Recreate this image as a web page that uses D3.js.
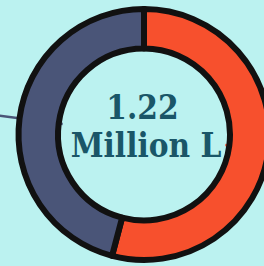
<!DOCTYPE html>
<html>
  <body style="margin:0;background:#bbf2f0;">
    <script src="https://d3js.org/d3.v7.min.js"></script>
    <script type="text/javascript">
      const width = 264;
      const height = 266;
      const categories = ['Part A', 'Part B'];
      const values = [0.66, 0.56];
      const colors = ['#f7502d', '#4a5578'];
      const totalLabel = ['1.22', 'Million L'];

      const cx = 144;
      const cy = 134.5;
      const outerR = 125.5;
      const innerR = 86;

      const data = categories.map((c, i) => ({ label: c, value: values[i], color: colors[i] }));

      const svg = d3.select('body')
        .append('svg')
        .attr('width', width)
        .attr('height', height)
        .style('display', 'block');

      svg.append('rect')
        .attr('width', width)
        .attr('height', height)
        .attr('fill', '#bbf2f0');

      const g = svg.append('g')
        .attr('transform', `translate(${cx}, ${cy})`);

      const pie = d3.pie().sort(null).value((d) => d.value);
      const arcs = pie(data);
      const arc = d3.arc().innerRadius(innerR).outerRadius(outerR);

      // leader lines, drawn under the ring
      const mid = (d) => (d.startAngle + d.endAngle) / 2;
      g.selectAll('line.leader')
        .data(arcs)
        .enter()
        .append('line')
        .attr('class', 'leader')
        .attr('x1', (d) => Math.sin(mid(d)) * (innerR - 4))
        .attr('y1', (d) => -Math.cos(mid(d)) * (innerR - 4))
        .attr('x2', (d) => Math.sin(mid(d)) * 175)
        .attr('y2', (d) => -Math.cos(mid(d)) * 175)
        .attr('stroke', (d) => d.data.color)
        .attr('stroke-width', 2.5);

      g.selectAll('path')
        .data(arcs)
        .enter()
        .append('path')
        .attr('d', arc)
        .attr('fill', (d) => d.data.color)
        .attr('stroke', '#111')
        .attr('stroke-width', 6)
        .attr('stroke-linejoin', 'round');

      const label = g.append('text')
        .attr('text-anchor', 'middle')
        .attr('fill', '#1a5668')
        .style('font-family', '"DejaVu Serif Condensed", "DejaVu Serif"')
        .style('font-weight', 'bold')
        .style('font-size', '33px');

      label.append('tspan')
        .attr('x', -1.5)
        .attr('y', -15.5)
        .text(totalLabel[0]);

      label.append('tspan')
        .attr('x', 2)
        .attr('y', 22.5)
        .text(totalLabel[1]);
    </script>
  </body>
</html>
